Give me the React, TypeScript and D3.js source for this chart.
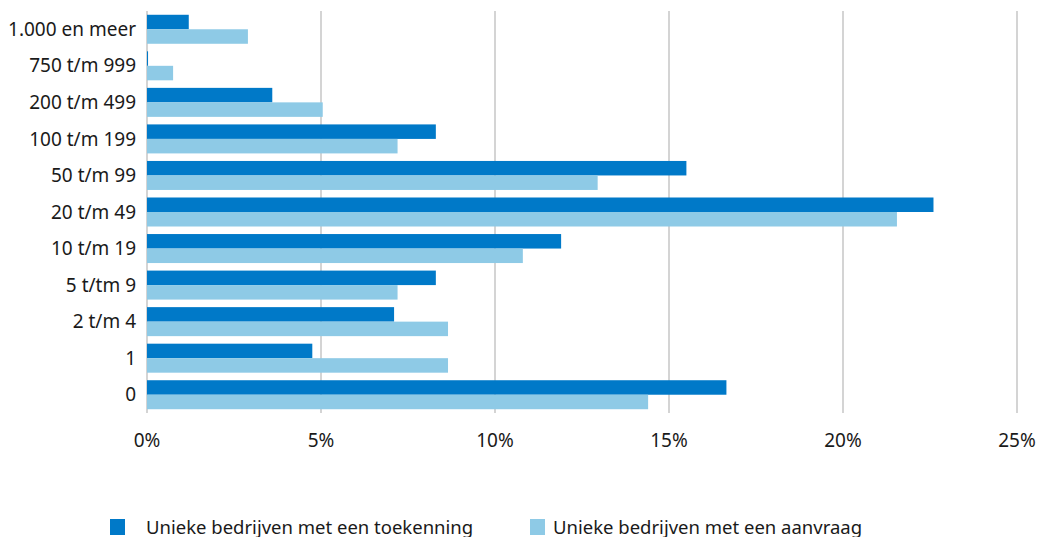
import React from 'react';
import * as d3 from 'd3';

const categories = [
  '1.000 en meer',
  '750 t/m 999',
  '200 t/m 499',
  '100 t/m 199',
  '50 t/m 99',
  '20 t/m 49',
  '10 t/m 19',
  '5 t/tm 9',
  '2 t/m 4',
  '1',
  '0',
];
const toekenning = [1.2, 0.03, 3.6, 8.3, 15.5, 22.6, 11.9, 8.3, 7.1, 4.75, 16.65];
const aanvraag = [2.9, 0.75, 5.05, 7.2, 12.95, 21.55, 10.8, 7.2, 8.65, 8.65, 14.4];
const xTicks = [0, 5, 10, 15, 20, 25];
const seriesNames = ['Unieke bedrijven met een toekenning', 'Unieke bedrijven met een aanvraag'];
const colors = ['#0079c8', '#8ecae6'];

const width = 1039;
const height = 537;
const margin = { top: 11, right: 22, bottom: 124, left: 147 };
const font = '"Noto Sans", sans-serif';

export default function App() {
  const x = d3
    .scaleLinear()
    .domain([0, 25])
    .range([margin.left, width - margin.right]);
  const y = d3
    .scaleBand<string>()
    .domain(categories)
    .range([margin.top, height - margin.bottom])
    .padding(0);
  const barH = 14.5;

  return (
    <svg
      width={width}
      height={height}
      style={{ position: 'absolute', left: 0, top: 0 }}
      fontFamily={font}
    >
      <rect width={width} height={height} fill='#fff' />
      {xTicks.map((t) => (
        <line
          key={t}
          x1={x(t)}
          x2={x(t)}
          y1={margin.top}
          y2={height - margin.bottom}
          stroke='#c6c6c6'
          strokeWidth={1.5}
        />
      ))}
      {categories.map((c, i) => {
        const cy = (y(c) as number) + y.bandwidth() / 2;
        return (
          <g key={c}>
            <rect
              x={x(0)}
              y={cy - barH}
              width={Math.max(1, x(toekenning[i]) - x(0))}
              height={barH}
              fill={colors[0]}
            />
            <rect
              x={x(0)}
              y={cy}
              width={x(aanvraag[i]) - x(0)}
              height={barH}
              fill={colors[1]}
            />
            <text
              x={136}
              y={cy}
              dy='0.35em'
              textAnchor='end'
              fontSize={19}
              fill='#1a1a1a'
            >
              {c}
            </text>
          </g>
        );
      })}
      {xTicks.map((t) => (
        <text
          key={'l' + t}
          x={x(t)}
          y={440}
          dy='0.35em'
          textAnchor='middle'
          fontSize={19}
          fill='#1a1a1a'
        >
          {t + '%'}
        </text>
      ))}
      {seriesNames.map((s, i) => {
        const lx = i === 0 ? 110 : 530;
        return (
          <g key={s}>
            <rect x={lx} y={519} width={15} height={16} fill={colors[i]} />
            <text x={lx + (i === 0 ? 36 : 23)} y={534} fontSize={18.5} fill='#1a1a1a'>
              {s}
            </text>
          </g>
        );
      })}
    </svg>
  );
}
